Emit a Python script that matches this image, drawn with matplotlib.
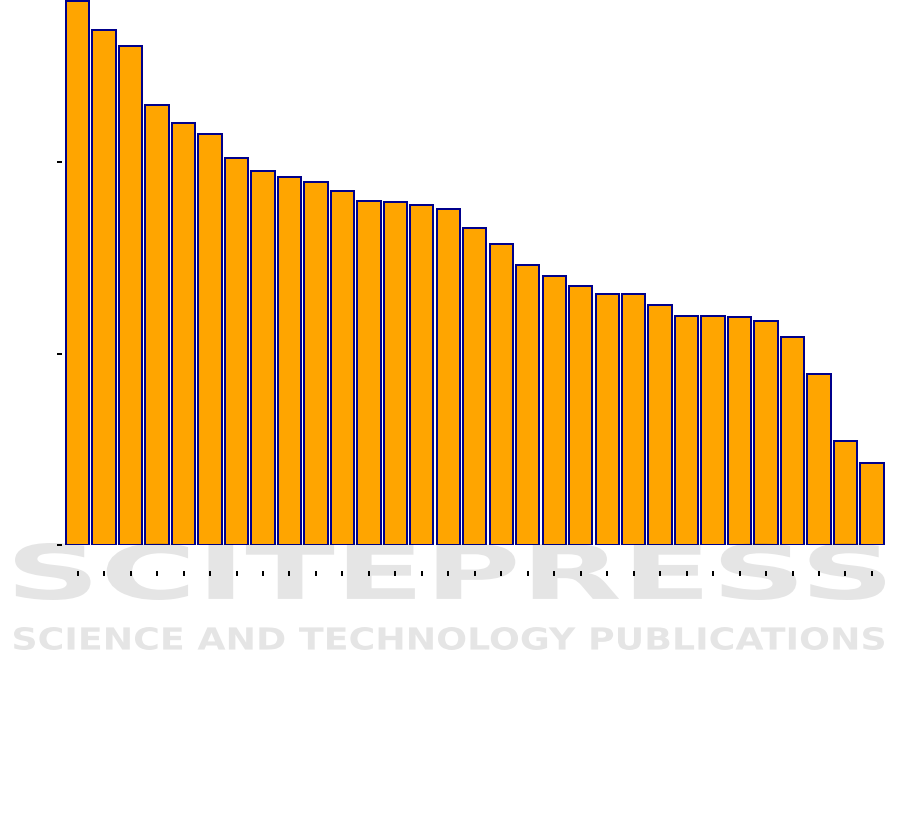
import numpy as np
import matplotlib
matplotlib.use("Agg")
import matplotlib.pyplot as plt
from matplotlib.textpath import TextPath
from matplotlib.font_manager import FontProperties
from matplotlib.patches import PathPatch
from matplotlib.transforms import Affine2D

# bar heights (sorted descending)
values = [2.841, 2.689, 2.606, 2.298, 2.204, 2.146, 2.021, 1.953, 1.922, 1.896,
          1.849, 1.796, 1.791, 1.775, 1.755, 1.655, 1.572, 1.462, 1.405, 1.352,
          1.311, 1.311, 1.253, 1.196, 1.196, 1.191, 1.170, 1.086, 0.893, 0.543,
          0.428]
y_ticks = [0, 1, 2]

W, H = 901, 824
PX = 0.72  # points per pixel at dpi 100
fig = plt.figure(figsize=(W / 100, H / 100), dpi=100)
ax = fig.add_axes([64.4 / W, 1 - 545 / H, 820.8 / W, 545 / H])

x = np.arange(len(values))
ax.bar(x, values, width=0.88, color="#FFA500", edgecolor="#00008B",
       linewidth=2 * PX, zorder=2)

ax.set_xlim(-0.5, len(values) - 0.5)
ax.set_ylim(0, 545 / 191.5)
ax.set_xticks(x)
ax.set_xticklabels([])
ax.set_yticks(y_ticks)
ax.set_yticklabels([])
for s in ax.spines.values():
    s.set_visible(False)
ax.spines["bottom"].set_position(("outward", 26 * PX))
ax.spines["left"].set_position(("outward", 2.4 * PX))
ax.tick_params(axis="both", length=5 * PX, width=2 * PX, color="black")


def watermark(text, x0, y0, x1, y1):
    """Faint publisher watermark, stretched into a pixel box (top-left origin)."""
    fp = FontProperties(family="DejaVu Sans", weight="bold")
    tp = TextPath((0, 0), text, size=1, prop=fp)
    ext = tp.get_extents()
    sx = (x1 - x0) / ext.width
    sy = (y1 - y0) / ext.height
    tr = (Affine2D().translate(-ext.x0, -ext.y0).scale(sx, sy)
          .translate(x0, H - y1))
    patch = PathPatch(tr.transform_path(tp), facecolor="black", edgecolor="none",
                      alpha=0.1, transform=None, zorder=5)
    fig.patches.append(patch)


watermark("SCITEPRESS", 15, 543, 885, 600)
watermark("SCIENCE AND TECHNOLOGY PUBLICATIONS", 14, 627, 884, 650)

fig.savefig("out.png", dpi=100)
